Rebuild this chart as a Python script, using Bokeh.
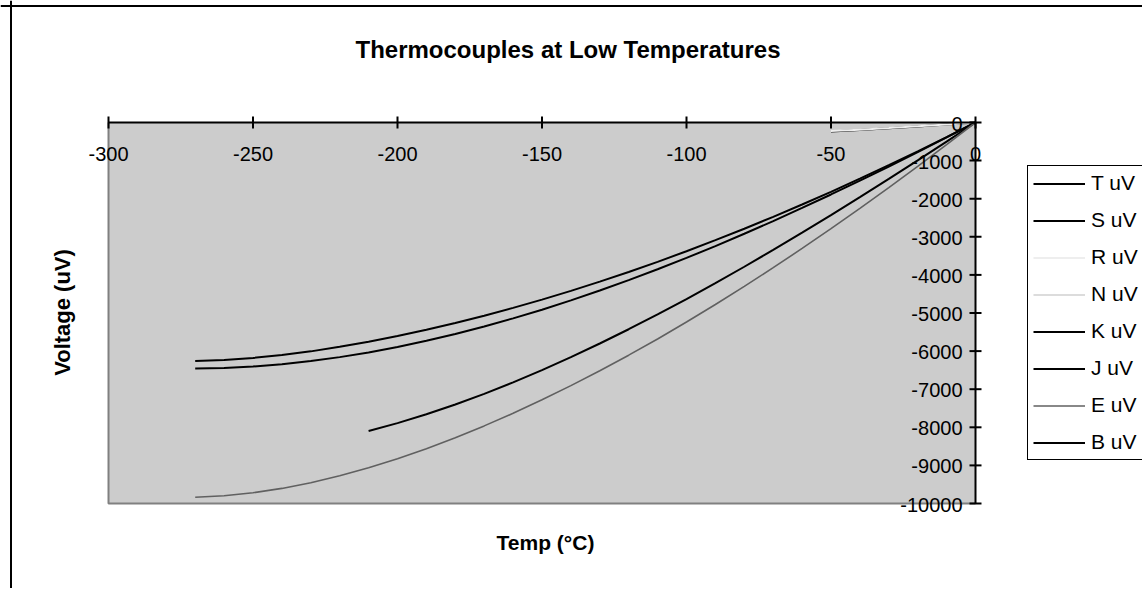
import math
from bokeh.plotting import figure
from bokeh.models import (Range1d, Legend, LegendItem, Label, Span, ColumnDataSource)
from bokeh.core.properties import value
from bokeh.embed import file_html
from bokeh.resources import INLINE

# ---- data ----
x_ticks = [-300, -250, -200, -150, -100, -50, 0]
y_ticks = [-10000, -9000, -8000, -7000, -6000, -5000, -4000, -3000, -2000, -1000, 0]
x_labels = ["-300", "-250", "-200", "-150", "-100", "-50", "0"]
y_labels = ["-10000", "-9000", "-8000", "-7000", "-6000", "-5000", "-4000",
            "-3000", "-2000", "-1000", "0"]

temp_270 = [-270, -260, -250, -240, -230, -220, -210, -200, -190, -180, -170, -160,
            -150, -140, -130, -120, -110, -100, -90, -80, -70, -60, -50, -40, -30,
            -20, -10, 0]
temp_210 = [-210, -200, -190, -180, -170, -160, -150, -140, -130, -120, -110, -100,
            -90, -80, -70, -60, -50, -40, -30, -20, -10, 0]
temp_50 = [-50, -40, -30, -20, -10, 0]

t_uv = [-6258, -6232, -6180, -6105, -6007, -5888, -5753, -5603, -5439, -5261, -5070,
        -4865, -4648, -4419, -4177, -3923, -3657, -3379, -3089, -2788, -2476, -2153,
        -1819, -1475, -1121, -757, -383, 0]
k_uv = [-6458, -6441, -6404, -6344, -6262, -6158, -6035, -5891, -5730, -5550, -5354,
        -5141, -4913, -4669, -4411, -4138, -3852, -3554, -3243, -2920, -2587, -2243,
        -1889, -1527, -1156, -778, -392, 0]
e_uv = [-9835, -9797, -9718, -9604, -9455, -9274, -9063, -8825, -8561, -8273, -7963,
        -7632, -7279, -6907, -6516, -6107, -5681, -5237, -4777, -4302, -3811, -3306,
        -2787, -2255, -1709, -1152, -582, 0]
j_uv = [-8095, -7890, -7659, -7403, -7123, -6821, -6500, -6159, -5801, -5426, -5037,
        -4633, -4215, -3786, -3344, -2893, -2431, -1961, -1482, -995, -501, 0]
s_uv = [-236, -194, -150, -103, -53, 0]
r_uv = [-226, -188, -145, -100, -51, 0]
n_uv = []   # no values in the plotted range
b_uv = []   # no values in the plotted range

series = [
    ("T uV", temp_270, t_uv, "#000000", 2),
    ("S uV", temp_50, s_uv, "#000000", 2),
    ("R uV", temp_50, r_uv, "#eeeeee", 2),
    ("N uV", [], n_uv, "#dcdcdc", 2),
    ("K uV", temp_270, k_uv, "#000000", 2),
    ("J uV", temp_210, j_uv, "#000000", 2),
    ("E uV", temp_270, e_uv, "#606060", 1.6),
    ("B uV", [], b_uv, "#000000", 2),
]

FONT = "Liberation Sans"

# ---- layout (pixels) ----
W, H = 1142, 588
PX_L, PX_R, PX_T, PX_B = 108, 975, 122, 503
ux = (x_ticks[-1] - x_ticks[0]) / (PX_R - PX_L)
uy = (y_ticks[-1] - y_ticks[0]) / (PX_B - PX_T)
x_rng = Range1d(x_ticks[0] - PX_L * ux, x_ticks[-1] + (W - PX_R) * ux)
y_rng = Range1d(y_ticks[0] - (H - PX_B) * uy, y_ticks[-1] + PX_T * uy)

p = figure(width=W, height=H, x_range=x_rng, y_range=y_rng,
           output_backend="svg", toolbar_location=None,
           x_axis_location=None, y_axis_location=None, min_border=0,
           background_fill_color="white", border_fill_color="white")
p.grid.visible = False
p.outline_line_color = None

# chart-area frame (left and top edges)
p.add_layout(Span(location=10.5, location_units="screen", dimension="height",
                  line_color="black", line_width=2))
p.add_layout(Span(location=H - 5.5, location_units="screen", dimension="width",
                  line_color="black", line_width=2))

# plot area
p.quad(left=x_ticks[0], right=x_ticks[-1], bottom=y_ticks[0], top=y_ticks[-1],
       fill_color="#cccccc", line_color=None)
p.line([x_ticks[0], x_ticks[0], x_ticks[-1]], [y_ticks[-1], y_ticks[0], y_ticks[0]],
       line_color="#808080", line_width=2)

# series
items = []
for name, xs, ys, color, lw in series:
    if len(ys) == 0:
        xs, ys = [math.nan], [math.nan]   # empty series: legend entry only
    src = ColumnDataSource(dict(x=xs, y=ys))
    r = p.line("x", "y", source=src, line_color=color, line_width=lw)
    items.append(LegendItem(label=name, renderers=[r]))

# axes (x axis crosses at y=0, y axis crosses at x=0)
p.line([x_ticks[0], x_ticks[-1]], [0, 0], line_color="black", line_width=2)
p.line([0, 0], [y_ticks[0], y_ticks[-1]], line_color="black", line_width=2)
p.scatter(x=x_ticks, y=[0] * len(x_ticks), marker="dash", size=12, angle=math.pi / 2,
          line_color="black", line_width=2)
p.scatter(x=[0] * len(y_ticks), y=y_ticks, marker="dash", size=12,
          line_color="black", line_width=2)
p.text(x=x_ticks, y=[0] * len(x_ticks), text=x_labels, y_offset=31,
       text_align="center", text_baseline="middle", text_font=value(FONT),
       text_font_size="20px", text_color="black")
p.text(x=[0] * len(y_ticks), y=y_ticks, text=y_labels, x_offset=-13, y_offset=1,
       text_align="right", text_baseline="middle", text_font=value(FONT),
       text_font_size="20px", text_color="black")

legend = Legend(items=items, location=(1027, H - 460),
                border_line_color="black", border_line_width=1.5,
                border_line_alpha=1.0,
                background_fill_color="white", background_fill_alpha=1,
                padding=5, spacing=13, margin=0,
                glyph_width=52, glyph_height=21, label_height=21,
                label_standoff=6,
                label_text_font=FONT, label_text_font_size="21px",
                label_text_color="black")
p.add_layout(legend, "center")

p.add_layout(Label(x=567.5, y=H - 48.5, x_units="screen", y_units="screen",
                   text="Thermocouples at Low Temperatures", text_font=FONT,
                   text_font_size="24px", text_font_style="bold", text_color="black",
                   text_align="center", text_baseline="middle"))
p.add_layout(Label(x=545, y=H - 542, x_units="screen", y_units="screen",
                   text="Temp (°C)", text_font=FONT, text_color="black",
                   text_font_size="21px", text_font_style="bold",
                   text_align="center", text_baseline="middle"))
p.add_layout(Label(x=62, y=H - 312, x_units="screen", y_units="screen",
                   text="Voltage (uV)", text_font=FONT, angle=math.pi / 2,
                   text_font_size="22px", text_font_style="bold", text_color="black",
                   text_align="center", text_baseline="middle"))

open("out.html", "w").write(file_html(p, INLINE))
